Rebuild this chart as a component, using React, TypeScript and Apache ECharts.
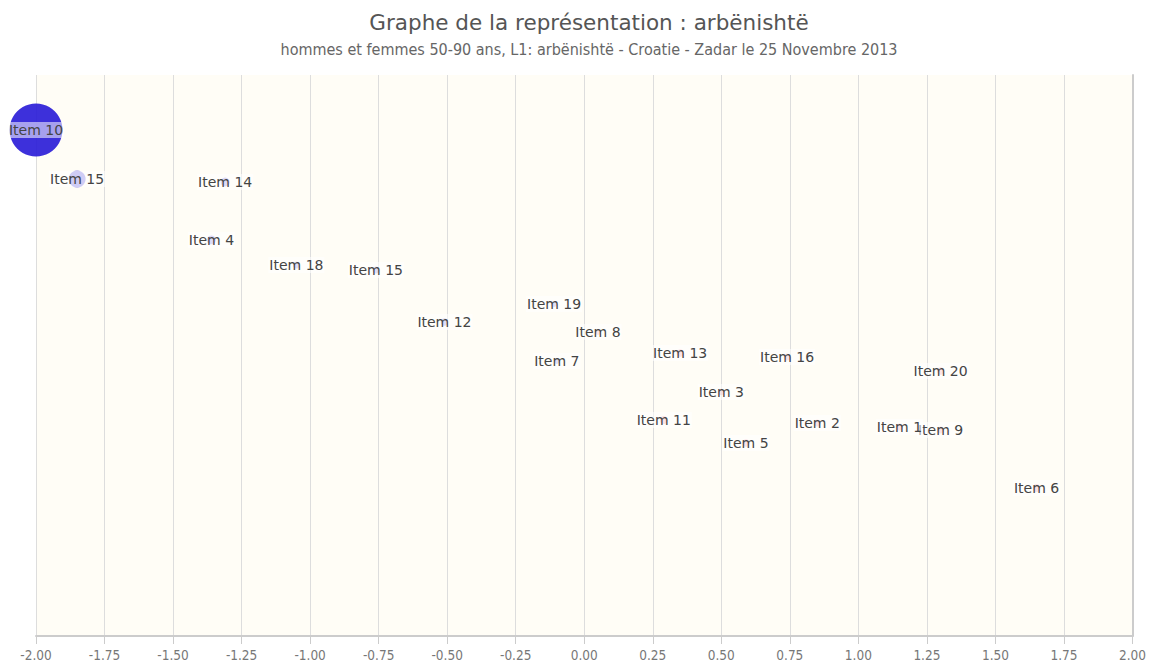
import React, { useEffect, useRef } from "react";
import * as echarts from "echarts";

const itemLabels = [
  "Item 10", "Item 15", "Item 14", "Item 4", "Item 18", "Item 15", "Item 12", "Item 19", "Item 8", "Item 7",
  "Item 13", "Item 16", "Item 20", "Item 3", "Item 11", "Item 2", "Item 5", "Item 9", "Item 1", "Item 6",
];
const xValues = [
  -2.0, -1.85, -1.31, -1.36, -1.05, -0.76, -0.51, -0.11, 0.05, -0.1,
  0.35, 0.74, 1.3, 0.5, 0.29, 0.85, 0.59, 1.3, 1.15, 1.65,
];
const yValues = [
  1.608, 1.258, 1.237, 0.824, 0.645, 0.61, 0.239, 0.367, 0.168, -0.039,
  0.018, -0.011, -0.111, -0.26, -0.46, -0.481, -0.624, -0.531, -0.51, -0.945,
];
const weights = [
  1.0, 0.25, 0.08, 0.08, 0.04, 0.04, 0.05, 0.02, 0.02, 0.02,
  0.05, 0.04, 0.05, 0.03, 0.06, 0.04, 0.05, 0.04, 0.04, 0.06,
];

const title = "Graphe de la représentation : arbënishtë";
const subtitle = "hommes et femmes 50-90 ans, L1: arbënishtë - Croatie - Zadar le 25 Novembre 2013";

export default function App() {
  const ref = useRef<HTMLDivElement>(null);
  useEffect(() => {
    if (!ref.current) return;
    const chart = echarts.init(ref.current, undefined, { renderer: "svg" });
    const data = xValues.map((x, i) => [x, yValues[i], weights[i], i]);
    chart.setOption({
      animation: false,
      title: {
        text: title,
        subtext: subtitle,
        left: 584,
        top: 6,
        textAlign: "center",
        itemGap: 8,
        textStyle: { fontFamily: "DejaVu Sans", fontSize: 21.5, fontWeight: "normal", color: "#555" },
        subtextStyle: { fontFamily: "DejaVu Sans Condensed", fontSize: 16, color: "#666" },
      },
      grid: {
        left: 36,
        right: 16,
        top: 75,
        bottom: 29,
        show: true,
        backgroundColor: "#fffdf6",
        borderWidth: 0,
      },
      xAxis: {
        type: "value",
        min: -2,
        max: 2,
        interval: 0.25,
        axisLine: { show: true, onZero: false, lineStyle: { color: "#ccc", width: 2 } },
        axisTick: { show: true, length: 8, lineStyle: { color: "#ccc" } },
        splitLine: { show: true, lineStyle: { color: "#ddd", width: 1 } },
        axisLabel: {
          formatter: (v: number) => v.toFixed(2),
          color: "#777",
          fontFamily: "DejaVu Sans Condensed",
          fontSize: 13.5,
          margin: 12,
        },
      },
      yAxis: {
        type: "value",
        min: -2,
        max: 2,
        position: "right",
        axisLine: { show: true, onZero: false, lineStyle: { color: "#ccc", width: 2 } },
        axisTick: { show: false },
        axisLabel: { show: false },
        splitLine: { show: false },
      },
      series: [
        {
          type: "scatter",
          data,
          symbolSize: (v: number[]) => 5 + 48 * v[2],
          itemStyle: {
            opacity: 1,
            color: (p: any) => {
              const x = p.value[0];
              const w = p.value[2];
              if (w >= 1) return "rgba(40,25,215,0.9)";
              const a = 0.35 + w * 1.0;
              return x < 0 ? `rgba(80,70,225,${a})` : `rgba(230,100,130,${a})`;
            },
          },
          label: {
            show: true,
            position: "inside",
            formatter: (p: any) => itemLabels[p.value[3]],
            color: "#444",
            fontFamily: "DejaVu Sans",
            fontSize: 14,
            backgroundColor: "rgba(255,255,255,0.55)",
            padding: [1, 1],
          },
        },
      ],
    });
    return () => chart.dispose();
  }, []);
  return <div ref={ref} style={{ width: 1149, height: 665, position: "absolute", left: 0, top: 0 }} />;
}
